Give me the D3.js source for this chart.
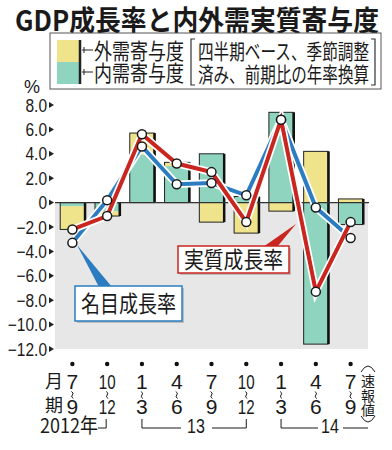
<!DOCTYPE html>
<html>
<head>
<meta charset="utf-8">
<script src="https://cdn.jsdelivr.net/npm/d3@7/dist/d3.min.js"></script>
<style>
  body { margin: 0; background: #fff; }
  svg { display: block; }
</style>
</head>
<body>
<div id="chart"></div>
<script>
// quarters (start / end month), Jul-Sep 2012 .. Jul-Sep 2014
const quarterStart = ["7", "10", "1", "4", "7", "10", "1", "4", "7"];
const quarterEnd = ["9", "12", "3", "6", "9", "12", "3", "6", "9"];
// contributions to growth, annualized %
const domesticContribution = [-0.3, -0.7, 3.9, 3.0, 4.0, 0.5, 7.4, -11.6, -1.8];
const externalContribution = [-1.9, -0.4, 1.8, 0.3, -1.6, -2.5, -0.7, 4.2, 0.3];
const realGrowth = [-2.2, -1.1, 5.6, 3.2, 2.5, -1.6, 6.8, -7.3, -1.6];
const nominalGrowth = [-3.3, 0.2, 4.6, 1.5, 1.6, 0.6, 6.8, -0.4, -2.9];
const yTicks = [8, 6, 4, 2, 0, -2, -4, -6, -8, -10, -12];

const W = 392, H = 450;
const jp = "'Noto Sans CJK JP', sans-serif";
const num = "'Liberation Sans', Arial, sans-serif";
const yellow = "#efe38c", teal = "#8fd4bf";
const red = "#c9261f", blue = "#2b7cc0";

const svg = d3.select("#chart").append("svg")
    .attr("width", W).attr("height", H);

const x = d3.scaleBand().domain(d3.range(quarterStart.length)).range([55, 368])
    .paddingInner(0.3).paddingOuter(0.15);
const y = d3.scaleLinear().domain([-12, 8]).range([349, 105]);
const cx = i => x(i) + x.bandwidth() / 2;

function squeeze(sel, ratio) {
    sel.each(function () {
        const w = this.getComputedTextLength();
        d3.select(this).attr("textLength", w * ratio).attr("lengthAdjust", "spacingAndGlyphs");
    });
}

// title
svg.append("text")
    .attr("x", 15).attr("y", 31)
    .attr("font-family", jp).attr("font-size", 28).attr("font-weight", 700)
    .attr("fill", "#1a1a1a")
    .attr("textLength", 364).attr("lengthAdjust", "spacingAndGlyphs")
    .text("GDP成長率と内外需実質寄与度");

// legend box
const legend = svg.append("g");
legend.append("rect")
    .attr("x", 50).attr("y", 33).attr("width", 331).attr("height", 56)
    .attr("fill", "#fff").attr("stroke", "#555").attr("stroke-width", 1);
[["外需寄与度", yellow, 40], ["内需寄与度", teal, 62]].forEach(([label, color, top]) => {
    legend.append("rect")
        .attr("x", 57).attr("y", top).attr("width", 22).attr("height", 22)
        .attr("fill", color);
    legend.append("line")
        .attr("x1", 80).attr("x2", 80).attr("y1", top).attr("y2", top + 22)
        .attr("stroke", "#222").attr("stroke-width", 2.5);
    legend.append("path")
        .attr("d", `M82,${top + 10}H93M84,${top + 7}V${top + 13}`)
        .attr("stroke", "#222").attr("fill", "none").attr("stroke-width", 1);
    legend.append("text")
        .attr("x", 94).attr("y", top + 19)
        .attr("font-family", jp).attr("font-size", 22).attr("fill", "#1a1a1a")
        .attr("textLength", 90).attr("lengthAdjust", "spacingAndGlyphs")
        .text(label);
});
legend.append("path")
    .attr("d", "M195,39H191V85H195M371,39H375V85H371")
    .attr("stroke", "#333").attr("fill", "none").attr("stroke-width", 1.2);
[["四半期ベース、季節調整", 59], ["済み、前期比の年率換算", 82]].forEach(([t, yy]) => {
    legend.append("text")
        .attr("x", 198).attr("y", yy)
        .attr("font-family", jp).attr("font-size", 21).attr("fill", "#1a1a1a")
        .attr("textLength", 171).attr("lengthAdjust", "spacingAndGlyphs")
        .text(t);
});

svg.append("text")
    .attr("x", 24).attr("y", 93)
    .attr("font-family", num).attr("font-size", 18).attr("fill", "#1a1a1a")
    .text("%");

// plot background: grey below zero
svg.append("rect")
    .attr("x", 55).attr("y", y(0)).attr("width", 313).attr("height", y(-12) - y(0))
    .attr("fill", "#e7e7e7");

// stacked bars
const rows = quarterStart.map((q, i) => ({
    i, domestic: domesticContribution[i], external: externalContribution[i]
}));
const stack = d3.stack().keys(["domestic", "external"]).offset(d3.stackOffsetDiverging);
const series = stack(rows);
const fills = { domestic: teal, external: yellow };

svg.append("g").selectAll("g")
    .data(series)
    .enter().append("g")
    .attr("fill", d => fills[d.key])
    .selectAll("rect")
    .data(d => d)
    .enter().append("rect")
    .attr("x", d => x(d.data.i))
    .attr("y", d => y(Math.max(d[0], d[1])))
    .attr("width", x.bandwidth())
    .attr("height", d => Math.abs(y(d[0]) - y(d[1])));

const extent = rows.map(r => {
    const lo = Math.min(0, r.domestic) + Math.min(0, r.external);
    const hi = Math.max(0, r.domestic) + Math.max(0, r.external);
    return { i: r.i, lo, hi };
});
svg.append("g").selectAll("rect")
    .data(extent)
    .enter().append("rect")
    .attr("x", d => x(d.i))
    .attr("y", d => y(d.hi))
    .attr("width", x.bandwidth())
    .attr("height", d => y(d.lo) - y(d.hi))
    .attr("fill", "none").attr("stroke", "#222").attr("stroke-width", 1);
svg.append("g").selectAll("line")
    .data(extent)
    .enter().append("line")
    .attr("x1", d => x(d.i) + x.bandwidth() + 0.5)
    .attr("x2", d => x(d.i) + x.bandwidth() + 0.5)
    .attr("y1", d => y(d.hi))
    .attr("y2", d => y(d.lo))
    .attr("stroke", "#111").attr("stroke-width", 2.5);

// zero line
svg.append("line")
    .attr("x1", 55).attr("x2", 369).attr("y1", y(0)).attr("y2", y(0))
    .attr("stroke", "#333").attr("stroke-width", 1.3);

// y axis labels with small arrows
const yAxis = svg.append("g");
yAxis.selectAll("path")
    .data(yTicks)
    .enter().append("path")
    .attr("d", d => `M49,${y(d) - 3}L54,${y(d)}L49,${y(d) + 3}Z`)
    .attr("fill", "#222");
yAxis.selectAll("text")
    .data(yTicks)
    .enter().append("text")
    .attr("x", 47).attr("y", d => y(d) + 6.5)
    .attr("text-anchor", "end")
    .attr("font-family", num).attr("font-size", 18).attr("fill", "#1a1a1a")
    .text(d => d === 0 ? "0" : (d < 0 ? "−" : "") + Math.abs(d).toFixed(1))
    .call(squeeze, 0.86);

// callout pointers and boxes
svg.append("path")
    .attr("d", "M77,245L99,287L112,287Z").attr("fill", blue);
svg.append("path")
    .attr("d", "M296,224L263,247L277,247Z").attr("fill", red);

function callout(x0, y0, w, h, color, label) {
    svg.append("rect")
        .attr("x", x0 + 2).attr("y", y0 + 2).attr("width", w).attr("height", h)
        .attr("fill", "#bdbdbd");
    svg.append("rect")
        .attr("x", x0).attr("y", y0).attr("width", w).attr("height", h)
        .attr("fill", "#fff").attr("stroke", color).attr("stroke-width", 1.5);
    svg.append("text")
        .attr("x", x0 + w / 2).attr("y", y0 + h / 2 + 8)
        .attr("text-anchor", "middle")
        .attr("font-family", jp).attr("font-size", 23).attr("fill", "#1a1a1a")
        .attr("textLength", w - 12).attr("lengthAdjust", "spacingAndGlyphs")
        .text(label);
}
callout(75, 286, 107, 35, blue, "名目成長率");
callout(178, 246, 111, 27, red, "実質成長率");

// growth lines with white halo
const line = d3.line().x((d, i) => cx(i)).y(d => y(d));
[[nominalGrowth, blue], [realGrowth, red]].forEach(([vals, color]) => {
    svg.append("path").datum(vals)
        .attr("d", line).attr("fill", "none")
        .attr("stroke", "#fff").attr("stroke-width", 7.5).attr("stroke-linejoin", "miter");
    svg.append("path").datum(vals)
        .attr("d", line).attr("fill", "none")
        .attr("stroke", color).attr("stroke-width", 4).attr("stroke-linejoin", "miter");
});
[nominalGrowth, realGrowth].forEach(vals => {
    svg.append("g").selectAll("circle")
        .data(vals)
        .enter().append("circle")
        .attr("cx", (d, i) => cx(i))
        .attr("cy", d => y(d))
        .attr("r", 4.5)
        .attr("fill", "#fff").attr("stroke", "#1a1a1a").attr("stroke-width", 1.5);
});

// x axis: dots, month ranges
const xAxis = svg.append("g");
xAxis.selectAll("circle")
    .data(quarterStart)
    .enter().append("circle")
    .attr("cx", (d, i) => cx(i)).attr("cy", 364).attr("r", 2.2)
    .attr("fill", "#111");
xAxis.selectAll(".qs")
    .data(quarterStart)
    .enter().append("text")
    .attr("class", "qs")
    .attr("x", (d, i) => cx(i)).attr("y", 389)
    .attr("text-anchor", "middle")
    .attr("font-family", num).attr("font-size", 21).attr("fill", "#1a1a1a")
    .text(d => d)
    .filter(d => d.length > 1).call(squeeze, 0.72);
xAxis.selectAll(".qe")
    .data(quarterEnd)
    .enter().append("text")
    .attr("class", "qe")
    .attr("x", (d, i) => cx(i)).attr("y", 414)
    .attr("text-anchor", "middle")
    .attr("font-family", num).attr("font-size", 21).attr("fill", "#1a1a1a")
    .text(d => d)
    .filter(d => d.length > 1).call(squeeze, 0.72);
xAxis.selectAll(".tilde")
    .data(quarterStart)
    .enter().append("path")
    .attr("class", "tilde")
    .attr("d", (d, i) => `M${cx(i) - 1},391.5q3,1.5 1,3.5q-2,2 1,3.5`)
    .attr("fill", "none").attr("stroke", "#1a1a1a").attr("stroke-width", 1);

svg.append("text")
    .attr("x", 45).attr("y", 388)
    .attr("font-family", jp).attr("font-size", 18).attr("fill", "#1a1a1a")
    .text("月");
svg.append("text")
    .attr("x", 45).attr("y", 412)
    .attr("font-family", jp).attr("font-size", 18).attr("fill", "#1a1a1a")
    .text("期");

// (速報値) vertical note
const note = svg.append("g");
note.append("path")
    .attr("d", "M361,372Q368,360 375,372M361,416Q368,428 375,416")
    .attr("fill", "none").attr("stroke", "#1a1a1a").attr("stroke-width", 1);
["速", "報", "値"].forEach((c, k) => {
    note.append("text")
        .attr("x", 368).attr("y", 386 + k * 14.5)
        .attr("text-anchor", "middle")
        .attr("font-family", jp).attr("font-size", 14).attr("fill", "#1a1a1a")
        .text(c);
});

// year groupings
const yr = svg.append("g")
    .attr("fill", "none").attr("stroke", "#1a1a1a").attr("stroke-width", 1);
yr.append("path").attr("d", `M98,428H${cx(1) - 1}V419`);
yr.append("path").attr("d", `M${cx(2)},419V428H181M212,428H${cx(5)}V419`);
yr.append("path").attr("d", `M${cx(6)},419V428H318M343,428H368`);
[["2012年", 40, "start"], ["13", 196, "middle"], ["14", 330, "middle"]].forEach(([t, xx, a]) => {
    svg.append("text")
        .attr("x", xx).attr("y", 433)
        .attr("text-anchor", a)
        .attr("font-family", t.length > 2 ? jp : num).attr("font-size", 20).attr("fill", "#1a1a1a")
        .text(t)
        .call(squeeze, t.length > 2 ? 0.9 : 0.8);
});
</script>
</body>
</html>
